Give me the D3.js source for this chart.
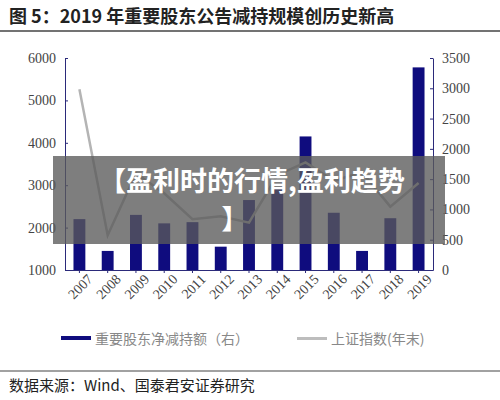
<!DOCTYPE html>
<html><head><meta charset="utf-8">
<script src="https://cdn.jsdelivr.net/npm/d3@7"></script>
<style>body{margin:0;background:#fff}svg{display:block}</style>
</head><body><svg id="c" width="500" height="400"></svg>
<script>
const years = ["2007","2008","2009","2010","2011","2012","2013","2014","2015","2016","2017","2018","2019"];
const reduction = [840,315,910,770,790,385,1155,1365,2205,945,315,855,3345];
const shIndex = [5261,1820,3277,2808,2199,2269,2116,3235,3539,3104,3307,2494,3050];
const leftTicks = [1000,2000,3000,4000,5000,6000];
const rightTicks = [0,500,1000,1500,2000,2500,3000,3500];

const svg = d3.select("#c");
const fontCN = "'Noto Sans CJK SC', sans-serif";
const L=65, R=433, T=58, B=270;
const x = d3.scaleBand().domain(years).range([L,R]).paddingInner(0.58).paddingOuter(0.3);
const yL = d3.scaleLinear().domain([1000,6000]).range([B,T]);
const yR = d3.scaleLinear().domain([0,3500]).range([B,T]);

svg.append("text").attr("x",9).attr("y",23).attr("font-family",fontCN).attr("font-weight","bold")
  .attr("font-size",18).attr("fill","#222").text("图  5：2019 年重要股东公告减持规模创历史新高");
svg.append("line").attr("x1",0).attr("x2",500).attr("y1",31).attr("y2",31).attr("stroke","#444").attr("stroke-width",1.5);
svg.append("line").attr("x1",0).attr("x2",500).attr("y1",371).attr("y2",371).attr("stroke","#444").attr("stroke-width",1.2);
svg.append("text").attr("x",9).attr("y",391).attr("font-family",fontCN).attr("font-size",15).attr("fill","#222")
  .text("数据来源：Wind、国泰君安证券研究");

svg.selectAll("rect.bar").data(years).join("rect").attr("class","bar")
  .attr("x",d=>x(d)).attr("width",x.bandwidth())
  .attr("y",(d,i)=>yR(reduction[i])).attr("height",(d,i)=>B-yR(reduction[i])).attr("fill","#0f0c7e");

const line = d3.line().x((d,i)=>x(years[i])+x.bandwidth()/2).y(d=>yL(d));
svg.append("path").datum(shIndex).attr("d",line).attr("fill","none").attr("stroke","#b4b4b4").attr("stroke-width",2.5);

const fmt = d3.format("d");
const axL = svg.append("g").attr("transform",`translate(${L},0)`).call(d3.axisLeft(yL).tickValues(leftTicks).tickFormat(fmt).tickSize(-3).tickSizeOuter(0));
const axR = svg.append("g").attr("transform",`translate(${R},0)`).call(d3.axisRight(yR).tickValues(rightTicks).tickFormat(fmt).tickSize(-3).tickSizeOuter(0));
const axB = svg.append("g").attr("transform",`translate(0,${B})`).call(d3.axisBottom(x).tickSize(3).tickSizeOuter(0));
[axL,axR,axB].forEach(a=>{a.selectAll("path,line").attr("stroke","#2b2a7a");
  a.selectAll("text").attr("font-family","'Liberation Serif', serif").attr("font-size",14).attr("fill","#444");});
axL.selectAll("text").attr("x",-9);
axR.selectAll("text").attr("x",9);
axB.selectAll("text").attr("transform","rotate(-45)").attr("text-anchor","end").attr("dx","0.2em").attr("dy","0.8em");

const lg = svg.append("g");
lg.append("rect").attr("x",61).attr("y",336).attr("width",30).attr("height",4).attr("fill","#0f0c7e");
lg.append("text").attr("x",95).attr("y",344).attr("font-family",fontCN).attr("font-size",14).attr("fill","#888").text("重要股东净减持额（右）");
lg.append("rect").attr("x",297).attr("y",337).attr("width",30).attr("height",3).attr("fill","#bdbdbd");
lg.append("text").attr("x",331).attr("y",344).attr("font-family",fontCN).attr("font-size",14).attr("fill","#888").text("上证指数(年末)");

svg.append("rect").attr("x",53).attr("y",156).attr("width",392).attr("height",88).attr("fill","rgba(90,90,90,0.78)");
svg.append("text").attr("x",252).attr("y",191).attr("text-anchor","middle").attr("font-family",fontCN).attr("font-weight","bold")
  .attr("font-size",27).attr("fill","#fff").text("【盈利时的行情,盈利趋势");
svg.append("text").attr("x",235).attr("y",229).attr("text-anchor","middle").attr("font-family",fontCN).attr("font-weight","bold")
  .attr("font-size",27).attr("fill","#fff").text("】");
</script></body></html>
